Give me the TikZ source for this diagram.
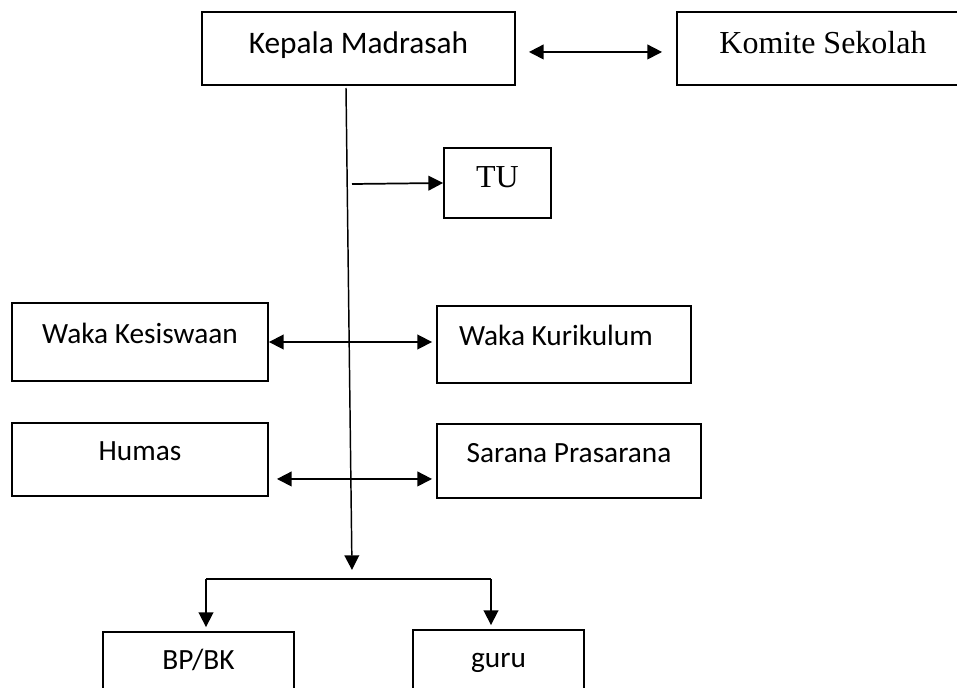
\documentclass[tikz,border=0pt]{standalone}
\usepackage{fontspec}
\setmainfont{Carlito}
\newfontfamily\timesfont{Liberation Serif}
\usetikzlibrary{arrows.meta}

\begin{document}
\begin{tikzpicture}[x=0.75pt, y=-0.75pt,
    box/.style={draw, line width=1.4pt, inner sep=0pt, text height=9pt, text depth=7pt,
      font=\fontsize{22}{26}\selectfont},
    topbox/.style={box, text height=12pt, text depth=5pt},
    serifbox/.style={topbox, font=\timesfont\fontsize{24}{28}\selectfont},
    link/.style={line width=1.3pt, >={Triangle[length=11pt,width=11pt]}}]
    \def \w {0.75pt} % one pixel of the reference
    \useasboundingbox (0,0) rectangle (957,688);

    \node[topbox, font=\fontsize{23.5}{28}\selectfont, minimum width=313*\w, minimum height=73*\w]
      (kepala) at (358.5,48.5) {Kepala Madrasah};
    \node[serifbox, minimum width=292*\w, minimum height=73*\w] (komite) at (823,48.5) {Komite Sekolah};
    \node[serifbox, minimum width=107*\w, minimum height=70*\w] (tu) at (497.5,183) {TU};
    \node[box, minimum width=256*\w, minimum height=78*\w] (kesiswaan) at (140,342) {Waka Kesiswaan};
    \node[box, minimum width=254*\w, minimum height=77*\w, text width=210*\w, align=flush left]
      (kurikulum) at (564,344.5) {Waka Kurikulum};
    \node[box, minimum width=256*\w, minimum height=73*\w] (humas) at (140,459.5) {Humas};
    \node[box, minimum width=264*\w, minimum height=74*\w] (sarana) at (569,461) {Sarana Prasarana};
    \node[box, minimum width=191*\w, minimum height=72*\w] (bpbk) at (198.5,668) {BP/BK};
    \node[box, minimum width=171*\w, minimum height=72*\w] (guru) at (498.5,666) {guru};

    \coordinate (top) at (346,88);
    \coordinate (down) at (352,570);
    \coordinate (tuin) at (352,184);
    \coordinate (left) at (206,579);
    \coordinate (right) at (491,579);

    \draw[link, <->, shorten <=9.75pt, shorten >=10.5pt]
      ([yshift=-2.6pt]kepala.east) -- ([yshift=-2.6pt]kepala.east -| komite.west);
    \draw[link, ->, line width=1.1pt] (top) -- (down);
    \draw[link, ->] (tuin) -- (tu.west);
    \draw[link, <->, shorten >=3pt] (kesiswaan.east) -- (kesiswaan.east -| kurikulum.west);
    \draw[link, <->, shorten <=6pt, shorten >=3pt]
      ([yshift=-14.6pt]humas.east) -- ([yshift=-14.6pt]humas.east -| sarana.west);
    \draw[line width=1.3pt] (left) -- (right);
    \foreach \b/\c in {bpbk/left, guru/right}
      \draw[link, ->, shorten >=3pt] (\c) -- (\c |- \b.north);
\end{tikzpicture}
\end{document}
